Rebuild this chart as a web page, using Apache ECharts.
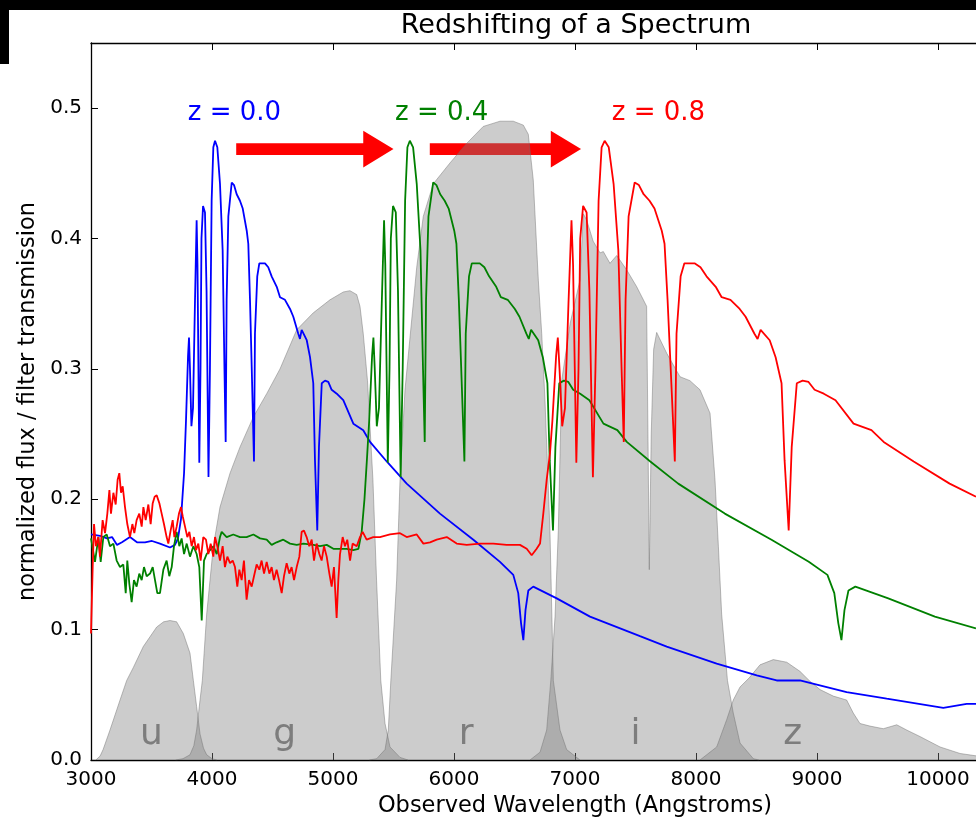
<!DOCTYPE html>
<html><head><meta charset="utf-8">
<script src="https://cdn.jsdelivr.net/npm/echarts@6/dist/echarts.min.js"></script>
<style>html,body{margin:0;padding:0;background:#fff;overflow:hidden}#c{width:976px;height:819px}</style>
</head><body><div id="c"></div><script>
// ---------- data (wavelength in Angstrom, normalized flux) ----------
const xTickValues = [3000,4000,5000,6000,7000,8000,9000,10000,11000];
const yTickValues = [0.0,0.1,0.2,0.3,0.4,0.5];

const specZ00 = [[3000,0.173],[3074,0.172],[3132,0.170],[3174,0.171],[3215,0.165],[3256,0.167],[3322,0.171],[3380,0.167],[3446,0.167],[3504,0.168],[3570,0.166],[3653,0.163],[3694,0.165],[3719,0.170],[3744,0.185],[3769,0.220],[3785,0.260],[3802,0.310],[3810,0.324],[3818,0.300],[3830,0.256],[3843,0.270],[3859,0.350],[3873,0.414],[3880,0.380],[3895,0.228],[3905,0.300],[3913,0.400],[3926,0.425],[3942,0.420],[3955,0.360],[3971,0.217],[3983,0.300],[3997,0.429],[4011,0.470],[4025,0.475],[4044,0.470],[4066,0.442],[4088,0.391],[4103,0.300],[4113,0.244],[4121,0.353],[4135,0.417],[4163,0.443],[4182,0.441],[4204,0.434],[4231,0.429],[4254,0.423],[4287,0.406],[4300,0.396],[4314,0.353],[4328,0.302],[4347,0.229],[4355,0.327],[4374,0.371],[4391,0.381],[4438,0.381],[4465,0.378],[4493,0.371],[4535,0.363],[4562,0.355],[4603,0.353],[4645,0.346],[4672,0.340],[4713,0.327],[4727,0.323],[4741,0.330],[4783,0.322],[4810,0.309],[4837,0.289],[4851,0.230],[4870,0.176],[4884,0.240],[4907,0.289],[4934,0.291],[4961,0.290],[4989,0.284],[5031,0.281],[5085,0.276],[5168,0.258],[5250,0.253],[5306,0.244],[5444,0.229],[5609,0.212],[5884,0.189],[6160,0.169],[6380,0.152],[6490,0.142],[6531,0.128],[6554,0.105],[6573,0.092],[6591,0.115],[6614,0.130],[6655,0.133],[6849,0.124],[7124,0.110],[7537,0.095],[7758,0.087],[8171,0.074],[8502,0.065],[8667,0.061],[8859,0.061],[9245,0.052],[9576,0.047],[10044,0.040],[10237,0.043],[10314,0.043]];

const specZ04 = [[3000,0.170],[3033,0.152],[3061,0.171],[3080,0.152],[3102,0.171],[3130,0.173],[3157,0.164],[3185,0.166],[3212,0.153],[3240,0.148],[3267,0.150],[3287,0.128],[3300,0.153],[3317,0.135],[3336,0.121],[3355,0.138],[3377,0.133],[3399,0.143],[3419,0.138],[3438,0.148],[3460,0.141],[3488,0.143],[3510,0.148],[3529,0.138],[3548,0.128],[3570,0.128],[3598,0.146],[3625,0.153],[3647,0.141],[3667,0.148],[3686,0.164],[3708,0.175],[3730,0.164],[3749,0.170],[3769,0.158],[3791,0.166],[3818,0.156],[3846,0.164],[3873,0.158],[3895,0.148],[3915,0.107],[3934,0.153],[3956,0.158],[3984,0.161],[4011,0.164],[4039,0.158],[4066,0.171],[4080,0.175],[4121,0.171],[4176,0.173],[4231,0.171],[4286,0.171],[4342,0.173],[4397,0.170],[4452,0.169],[4493,0.165],[4534,0.167],[4589,0.169],[4645,0.166],[4700,0.165],[4755,0.166],[4838,0.165],[4893,0.164],[4948,0.165],[5003,0.162],[5058,0.162],[5113,0.162],[5168,0.161],[5210,0.162],[5237,0.175],[5260,0.200],[5280,0.230],[5299,0.260],[5323,0.310],[5334,0.324],[5345,0.300],[5362,0.256],[5380,0.270],[5403,0.350],[5422,0.414],[5432,0.380],[5453,0.228],[5467,0.300],[5478,0.400],[5496,0.425],[5519,0.420],[5537,0.360],[5559,0.217],[5576,0.300],[5596,0.429],[5615,0.470],[5635,0.475],[5662,0.470],[5692,0.442],[5723,0.391],[5744,0.300],[5758,0.244],[5769,0.353],[5789,0.417],[5828,0.443],[5855,0.441],[5886,0.434],[5923,0.429],[5956,0.423],[6002,0.406],[6020,0.396],[6040,0.353],[6059,0.302],[6086,0.229],[6097,0.327],[6124,0.371],[6147,0.381],[6213,0.381],[6251,0.378],[6290,0.371],[6349,0.363],[6387,0.355],[6444,0.353],[6503,0.346],[6541,0.340],[6598,0.327],[6618,0.323],[6637,0.330],[6696,0.322],[6734,0.309],[6772,0.289],[6791,0.230],[6818,0.176],[6838,0.240],[6870,0.289],[6908,0.291],[6945,0.290],[6985,0.284],[7043,0.281],[7119,0.276],[7235,0.258],[7350,0.253],[7428,0.244],[7622,0.229],[7853,0.212],[8238,0.189],[8624,0.169],[8932,0.152],[9086,0.142],[9143,0.128],[9176,0.105],[9202,0.092],[9227,0.115],[9260,0.130],[9317,0.133],[9589,0.124],[9974,0.110],[10314,0.101]];

const specZ08 = [[3000,0.097],[3014,0.148],[3025,0.181],[3041,0.164],[3061,0.171],[3074,0.156],[3096,0.184],[3116,0.174],[3135,0.189],[3152,0.207],[3165,0.189],[3185,0.205],[3204,0.196],[3220,0.215],[3234,0.220],[3248,0.205],[3262,0.210],[3281,0.194],[3300,0.181],[3322,0.171],[3342,0.181],[3358,0.174],[3377,0.184],[3399,0.189],[3419,0.179],[3433,0.194],[3452,0.184],[3474,0.196],[3493,0.181],[3510,0.197],[3526,0.202],[3543,0.203],[3565,0.197],[3584,0.189],[3603,0.181],[3625,0.171],[3639,0.166],[3658,0.176],[3675,0.184],[3689,0.171],[3708,0.179],[3727,0.189],[3744,0.194],[3758,0.187],[3777,0.179],[3796,0.171],[3813,0.175],[3832,0.164],[3851,0.171],[3868,0.161],[3887,0.166],[3906,0.153],[3928,0.171],[3950,0.169],[3970,0.158],[3989,0.166],[4011,0.156],[4025,0.171],[4044,0.164],[4066,0.153],[4088,0.164],[4107,0.148],[4127,0.156],[4149,0.151],[4171,0.153],[4190,0.148],[4209,0.133],[4226,0.146],[4245,0.138],[4264,0.153],[4286,0.123],[4306,0.138],[4328,0.133],[4347,0.141],[4369,0.150],[4391,0.146],[4410,0.153],[4430,0.143],[4452,0.152],[4474,0.143],[4493,0.148],[4512,0.138],[4534,0.146],[4554,0.138],[4576,0.128],[4595,0.141],[4617,0.151],[4639,0.143],[4658,0.148],[4678,0.138],[4700,0.148],[4722,0.156],[4741,0.175],[4760,0.176],[4782,0.171],[4804,0.164],[4824,0.169],[4843,0.153],[4865,0.166],[4887,0.158],[4906,0.153],[4926,0.164],[4948,0.156],[4970,0.143],[4989,0.133],[5008,0.148],[5030,0.109],[5044,0.138],[5058,0.158],[5080,0.171],[5099,0.164],[5118,0.169],[5141,0.153],[5162,0.166],[5196,0.164],[5223,0.171],[5245,0.175],[5278,0.169],[5333,0.171],[5388,0.171],[5471,0.173],[5554,0.174],[5609,0.171],[5692,0.173],[5747,0.166],[5802,0.167],[5857,0.169],[5940,0.171],[6022,0.166],[6105,0.165],[6215,0.166],[6325,0.166],[6435,0.165],[6545,0.165],[6601,0.162],[6642,0.157],[6683,0.162],[6711,0.166],[6738,0.189],[6766,0.215],[6793,0.235],[6813,0.260],[6844,0.310],[6858,0.324],[6872,0.300],[6894,0.256],[6917,0.270],[6946,0.350],[6971,0.414],[6984,0.380],[7011,0.228],[7029,0.300],[7043,0.400],[7067,0.425],[7096,0.420],[7119,0.360],[7148,0.217],[7169,0.300],[7195,0.429],[7220,0.470],[7245,0.475],[7279,0.470],[7319,0.442],[7358,0.391],[7385,0.300],[7403,0.244],[7418,0.353],[7443,0.417],[7493,0.443],[7528,0.441],[7567,0.434],[7616,0.429],[7657,0.423],[7717,0.406],[7740,0.396],[7765,0.353],[7790,0.302],[7825,0.229],[7839,0.327],[7873,0.371],[7904,0.381],[7988,0.381],[8037,0.378],[8087,0.371],[8163,0.363],[8212,0.355],[8285,0.353],[8361,0.346],[8410,0.340],[8483,0.327],[8509,0.323],[8534,0.330],[8609,0.322],[8658,0.309],[8707,0.289],[8732,0.230],[8766,0.176],[8791,0.240],[8833,0.289],[8881,0.291],[8930,0.290],[8980,0.284],[9056,0.281],[9153,0.276],[9302,0.258],[9450,0.253],[9551,0.244],[9799,0.229],[10096,0.212],[10314,0.202]];

const filterU = [[3040,0],[3075,0.003],[3100,0.008],[3157,0.023],[3240,0.046],[3295,0.061],[3350,0.071],[3432,0.087],[3543,0.102],[3600,0.106],[3653,0.107],[3708,0.106],[3763,0.097],[3818,0.082],[3846,0.061],[3873,0.041],[3901,0.020],[3930,0.009],[3956,0.004],[4000,0.001],[4040,0]];
const filterG = [[3700,0],[3760,0.001],[3818,0.004],[3850,0.011],[3873,0.023],[3901,0.046],[3920,0.061],[3956,0.112],[4011,0.164],[4066,0.194],[4149,0.220],[4231,0.240],[4341,0.263],[4452,0.281],[4562,0.300],[4700,0.330],[4837,0.343],[4975,0.353],[5085,0.359],[5140,0.360],[5196,0.357],[5223,0.348],[5250,0.327],[5285,0.291],[5330,0.215],[5360,0.138],[5395,0.061],[5430,0.028],[5471,0.010],[5554,0.002],[5620,0]];
const filterR = [[5300,0],[5361,0.001],[5430,0.008],[5457,0.023],[5478,0.061],[5526,0.138],[5554,0.215],[5595,0.284],[5692,0.378],[5746,0.417],[5829,0.442],[5967,0.458],[6105,0.473],[6242,0.486],[6380,0.490],[6490,0.490],[6573,0.487],[6614,0.480],[6655,0.445],[6697,0.368],[6725,0.327],[6752,0.276],[6793,0.176],[6821,0.061],[6876,0.023],[6931,0.008],[7041,0]];
const filterI = [[6628,0],[6711,0.006],[6766,0.023],[6800,0.061],[6835,0.110],[6862,0.176],[6890,0.291],[6960,0.335],[7041,0.368],[7069,0.419],[7097,0.414],[7150,0.398],[7207,0.389],[7234,0.390],[7289,0.381],[7345,0.387],[7427,0.376],[7510,0.363],[7565,0.353],[7592,0.348],[7603,0.250],[7614,0.146],[7630,0.250],[7650,0.315],[7675,0.328],[7758,0.312],[7868,0.294],[7950,0.291],[8033,0.284],[8116,0.266],[8157,0.215],[8185,0.164],[8212,0.112],[8260,0.061],[8308,0.036],[8364,0.013],[8474,0.001],[8520,0]];
const filterZ = [[8033,0],[8171,0.010],[8254,0.031],[8308,0.046],[8364,0.056],[8440,0.063],[8529,0.073],[8639,0.077],[8750,0.075],[8859,0.068],[8935,0.061],[9025,0.054],[9135,0.049],[9245,0.046],[9300,0.036],[9355,0.028],[9438,0.026],[9548,0.024],[9659,0.027],[9741,0.023],[9851,0.018],[10017,0.010],[10182,0.005],[10400,0.002],[10700,0.0005],[11000,0]];

const filterNames = ['u','g','r','i','z'];
const filterNameX = [3500,4600,6100,7500,8800];
const redshiftNames = ['z = 0.0','z = 0.4','z = 0.8'];
const redshiftNameX = [4186,5898,7689];
const arrows = [[4200,5500,0.4686],[5800,7050,0.4686]]; // [start, tip, flux]

// ---------- styling constants ----------
const FONT = 'DejaVu Sans';
const ARROW_HEAD_LEN = 250, ARROW_HEAD_HW = 0.0141, ARROW_SHAFT_HW = 0.0045;
const FILTER_LABEL_Y = 0.0196, REDSHIFT_LABEL_Y = 0.496;

const chart = echarts.init(document.getElementById('c'), null, {renderer:'canvas'});

function filterSeries(data){
  return {type:'line', data, symbol:'none', showSymbol:false, silent:true, z:2,
    lineStyle:{color:'rgba(110,110,110,0.45)', width:1},
    areaStyle:{color:'rgba(128,128,128,0.4)', opacity:1, origin:'start'}};
}
function specSeries(data,color){
  return {type:'line', data, symbol:'none', showSymbol:false, silent:true, z:4,
    lineStyle:{color, width:1.8}};
}

const option = {
  animation:false,
  backgroundColor:'#fff',
  title:{text:'Redshifting of a Spectrum', left:576, top:12, textAlign:'center', padding:0,
    textStyle:{fontFamily:FONT, fontSize:27, fontWeight:'normal', color:'#000'}},
  grid:{left:91, top:43, width:968, height:717, containLabel:false, outerBoundsMode:'none'},
  xAxis:[{
    type:'value', min:3000, max:11000, interval:1000, position:'bottom',
    name:'Observed Wavelength (Angstroms)', nameLocation:'middle', nameGap:30,
    nameTextStyle:{fontFamily:FONT, fontSize:22.5, color:'#000'},
    axisLine:{show:true, onZero:false, lineStyle:{color:'#000', width:1.3}},
    axisTick:{show:true, inside:true, length:7, lineStyle:{color:'#000', width:1}},
    axisLabel:{fontFamily:FONT, fontSize:20, color:'#000', margin:10, formatter:v=>String(v)},
    splitLine:{show:false}
  },{
    type:'value', min:3000, max:11000, interval:1000, position:'top',
    axisLine:{show:true, onZero:false, lineStyle:{color:'#000', width:1.3}},
    axisTick:{show:true, inside:true, length:7, lineStyle:{color:'#000', width:1}},
    axisLabel:{show:false}, splitLine:{show:false}
  }],
  yAxis:[{
    type:'value', min:0, max:0.55, interval:0.1,
    name:'normalized flux / filter transmission', nameLocation:'middle', nameGap:43,
    nameTextStyle:{fontFamily:FONT, fontSize:22.5, color:'#000'},
    axisLine:{show:true, onZero:false, lineStyle:{color:'#000', width:1.3}},
    axisTick:{show:true, inside:true, length:7, lineStyle:{color:'#000', width:1}},
    axisLabel:{fontFamily:FONT, fontSize:20, color:'#000', margin:9, showMaxLabel:false,
      formatter:v=> (yTickValues.some(t=>Math.abs(t-v)<1e-9) ? v.toFixed(1) : '')},
    splitLine:{show:false}
  }],
  graphic:[
    {type:'rect', left:0, top:0, shape:{width:976, height:10}, style:{fill:'#000'}, z:100},
    {type:'rect', left:0, top:0, shape:{width:9, height:64}, style:{fill:'#000'}, z:100}
  ],
  series:[
    {type:'custom', data:arrows, z:1, silent:true, encode:{x:[0,1], y:2},
      renderItem:(params, api)=>{
        const x0=api.value(0), x1=api.value(1), y=api.value(2);
        const pts=[[x0,y-ARROW_SHAFT_HW],[x1-ARROW_HEAD_LEN,y-ARROW_SHAFT_HW],[x1-ARROW_HEAD_LEN,y-ARROW_HEAD_HW],[x1,y],
          [x1-ARROW_HEAD_LEN,y+ARROW_HEAD_HW],[x1-ARROW_HEAD_LEN,y+ARROW_SHAFT_HW],[x0,y+ARROW_SHAFT_HW]].map(p=>api.coord(p));
        return {type:'polygon', shape:{points:pts}, style:{fill:'#ff0000'}};
      }},
    filterSeries(filterU), filterSeries(filterG), filterSeries(filterR), filterSeries(filterI), filterSeries(filterZ),
    {type:'custom', z:3, silent:true, data:filterNames.map((n,i)=>[filterNameX[i], FILTER_LABEL_Y]),
      renderItem:(params, api)=>{
        const p=api.coord([api.value(0), api.value(1)]);
        return {type:'text', x:p[0], y:p[1], style:{text:filterNames[params.dataIndex], fill:'#7d7d7d',
          fontFamily:FONT, fontSize:36, align:'center', verticalAlign:'middle'}};
      }},
    specSeries(specZ00,'#0000ff'),
    specSeries(specZ04,'#008000'),
    specSeries(specZ08,'#ff0000'),
    {type:'custom', z:5, silent:true, data:redshiftNames.map((n,i)=>[redshiftNameX[i], REDSHIFT_LABEL_Y]),
      renderItem:(params, api)=>{
        const colors=['#0000ff','#008000','#ff0000'];
        const p=api.coord([api.value(0), api.value(1)]);
        return {type:'text', x:p[0], y:p[1], style:{text:redshiftNames[params.dataIndex], fill:colors[params.dataIndex],
          fontFamily:FONT, fontSize:26, align:'center', verticalAlign:'middle'}};
      }}
  ]
};
chart.setOption(option);
</script></body></html>
